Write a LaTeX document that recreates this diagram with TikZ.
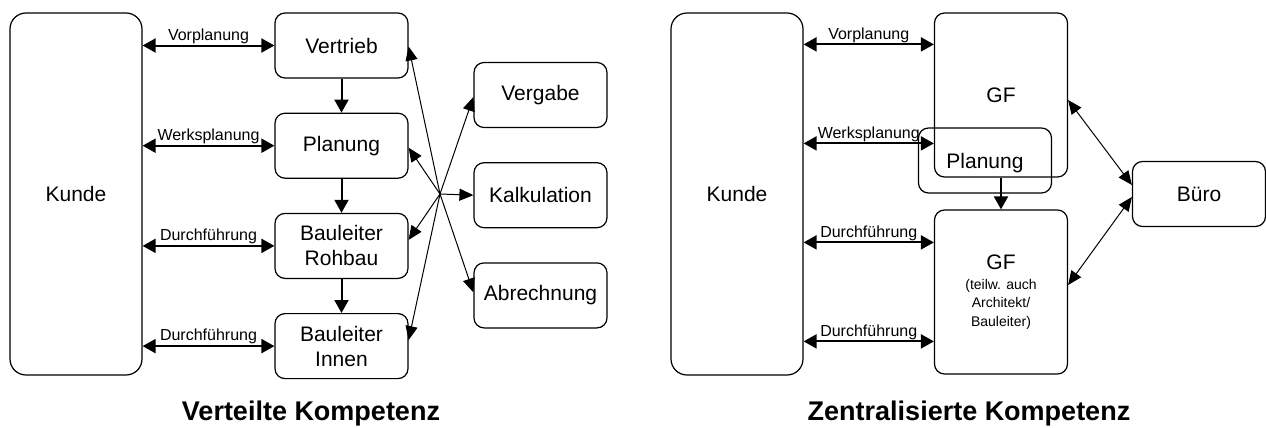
\documentclass[tikz,border=0pt]{standalone}
\usepackage{fontspec}
\setmainfont{Liberation Sans}
\usetikzlibrary{positioning, arrows.meta}
\newcommand{\kleinschrift}{\fontsize{7}{8}\selectfont}
\tikzset{
  >={Triangle[length=6.5pt,width=7pt]},
  node distance=17pt,
  box/.style={draw, line width=0.6pt, rounded corners=5pt, align=center,
    minimum width=66.5pt, minimum height=32.5pt,
    font=\fontsize{10.5}{12.5}\selectfont},
  kunde/.style={box, rounded corners=8pt, minimum width=66pt, minimum height=181pt},
  dick/.style={<->, line width=1pt},
  runter/.style={->, line width=1pt},
  duenn/.style={-{Triangle[length=7pt,width=6pt]}, line width=0.5pt},
  duennbeid/.style={{Triangle[length=7pt,width=6pt]}-{Triangle[length=7pt,width=6pt]}, line width=0.5pt},
  beschr/.style={font=\fontsize{8}{9}\selectfont, inner sep=0.5pt},
  titel/.style={font=\bfseries\fontsize{13.5}{15}\selectfont},
}
\begin{document}
\begin{tikzpicture}[x=0.5pt, y=-0.5pt]
  \useasboundingbox (0,0) rectangle (1266,428);

  % verteilte Kompetenz
  \node[kunde] (kundeL) at (76,194) {Kunde};
  \node[box] (vertrieb) at (341.5,45.5) {Vertrieb};
  \node[box, below=of vertrieb] (planung) {Planung};
  \node[box, below=of planung] (rohbau) {Bauleiter\\Rohbau};
  \node[box, below=of rohbau] (innen) {Bauleiter\\Innen};
  \node[box] (vergabe) at (540.5,95) {Vergabe};
  \node[box, below=of vergabe] (kalk) {Kalkulation};
  \node[box, below=of kalk] (abrechnung) {Abrechnung};
  \coordinate (mitte) at (440,194);

  \draw[dick] (vertrieb.west -| kundeL.east) -- node[beschr, above] {Vorplanung} (vertrieb.west);
  \draw[dick] (planung.west -| kundeL.east) -- node[beschr, above] {Werksplanung} (planung.west);
  \draw[dick] (rohbau.west -| kundeL.east) -- node[beschr, above] {Durchführung} (rohbau.west);
  \draw[dick] (innen.west -| kundeL.east) -- node[beschr, above] {Durchführung} (innen.west);

  \draw[runter] (vertrieb) -- (planung);
  \draw[runter] (planung) -- (rohbau);
  \draw[runter] (rohbau) -- (innen);

  \draw[duenn] (mitte) -- ([yshift=-0.5pt]vertrieb.east);
  \draw[duenn] (mitte) -- ([yshift=-1pt]planung.east);
  \draw[duenn] (mitte) -- ([yshift=3pt]rohbau.east);
  \draw[duenn] (mitte) -- ([yshift=3pt]innen.east);
  \draw[duenn] (mitte) -- ([yshift=-1pt]vergabe.west);
  \draw[duenn] (mitte) -- (kalk.west);
  \draw[duenn] (mitte) -- ([yshift=1.5pt]abrechnung.west);

  \node[titel] (titelL) at (311,414) {Verteilte Kompetenz};

  % zentralisierte Kompetenz
  \node[kunde] (kundeR) at (737,194) {Kunde};
  \node[box, minimum height=82pt] (gfo) at (1001,95) {GF};
  \node[box, text depth=-3pt] (planR) at (985,160.5) {Planung};
  \node[box, minimum height=82pt] (gfu) at (1001,292)
    {GF\\[-2.5pt]\kleinschrift (teilw. auch\\[-3.3pt]\kleinschrift Architekt/\\[-3.3pt]\kleinschrift Bauleiter)};
  \node[box] (buero) at (1199,194) {Büro};

  \draw[dick] ([yshift=-16pt]gfo.north west -| kundeR.east) -- node[beschr, above] {Vorplanung} ([yshift=-16pt]gfo.north west);
  \draw[dick] ([yshift=-65.5pt]gfo.north west -| kundeR.east) -- node[beschr, above] {Werksplanung} ([yshift=-65.5pt]gfo.north west);
  \draw[dick] ([yshift=-16.5pt]gfu.north west -| kundeR.east) -- node[beschr, above] {Durchführung} ([yshift=-16.5pt]gfu.north west);
  \draw[dick] ([yshift=-66pt]gfu.north west -| kundeR.east) -- node[beschr, above] {Durchführung} ([yshift=-66pt]gfu.north west);

  \draw[runter] (gfo) -- (gfu);
  \draw[duennbeid] ([yshift=-2.5pt]gfo.east) -- ([yshift=4.5pt]buero.west);
  \draw[duennbeid] ([yshift=3.5pt]gfu.east) -- ([yshift=-1.5pt]buero.west);

  \node[titel] (titelR) at (969,414) {Zentralisierte Kompetenz};
\end{tikzpicture}
\end{document}
